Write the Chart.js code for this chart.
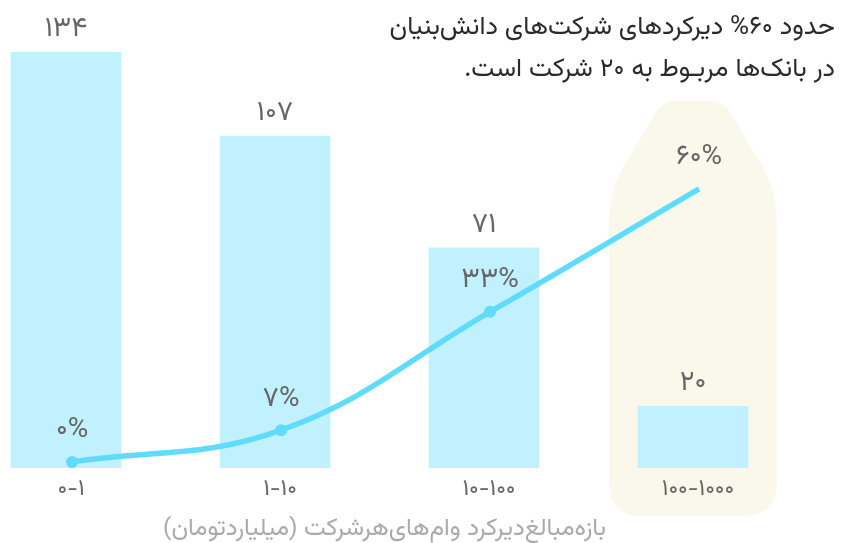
<!DOCTYPE html>
<html lang="fa">
<head>
<meta charset="utf-8">
<script src="https://cdn.jsdelivr.net/npm/chart.js@4.4.1/dist/chart.umd.min.js"></script>
<style>
  html, body { margin: 0; padding: 0; background: #fff; }
  #wrap { width: 845px; height: 543px; position: relative; }
</style>
</head>
<body>
<div id="wrap"><canvas id="chart"></canvas></div>
<script>
// Data
const categories = ['۰-۱', '۱-۱۰', '۱۰-۱۰۰', '۱۰۰-۱۰۰۰'];
const companyCounts = [134, 107, 71, 20];
const delayShares = [0, 7, 33, 60];
const titleLines = [
    'حدود ۶۰% دیرکردهای شرکت‌های دانش‌بنیان',
    'در بانک‌ها مربـوط به ۲۰ شرکت است.'
];
const axisTitle = 'بازه‌مبالغ‌دیرکرد وام‌های‌هرشرکت (میلیاردتومان)';

const FONT = "'Vazirmatn', 'Noto Sans Arabic', 'DejaVu Sans', sans-serif";

function toPersianDigits(n) {
    return String(n).replace(/[0-9]/g, d => '۰۱۲۳۴۵۶۷۸۹'[d]);
}

Chart.defaults.font.family = FONT;

// beige highlight behind last category
const highlightPlugin = {
    id: 'highlight',
    beforeDraw(chart) {
        const ctx = chart.ctx;
        const cx = chart.scales.x.getPixelForValue(3);
        const top = 101, bottom = 516, half = 84, r = 34;
        ctx.save();
        ctx.fillStyle = '#faf8ea';
        ctx.beginPath();
        ctx.moveTo(cx - 18, top);
        ctx.lineTo(cx + 18, top);
        ctx.quadraticCurveTo(cx + 28, top, cx + 36, top + 9);
        ctx.lineTo(cx + 60, top + 50);
        ctx.quadraticCurveTo(cx + half, top + 82, cx + half, top + 125);
        ctx.lineTo(cx + half, bottom - r);
        ctx.quadraticCurveTo(cx + half, bottom, cx + half - r, bottom);
        ctx.lineTo(cx - half + r, bottom);
        ctx.quadraticCurveTo(cx - half, bottom, cx - half, bottom - r);
        ctx.lineTo(cx - half, top + 125);
        ctx.quadraticCurveTo(cx - half, top + 82, cx - 60, top + 50);
        ctx.lineTo(cx - 36, top + 9);
        ctx.quadraticCurveTo(cx - 28, top, cx - 18, top);
        ctx.closePath();
        ctx.fill();
        ctx.restore();
    }
};

// value labels, axis title and headline
const labelsPlugin = {
    id: 'labels',
    afterDatasetsDraw(chart) {
        const ctx = chart.ctx;
        const area = chart.chartArea;
        ctx.save();
        ctx.direction = 'ltr';
        ctx.fillStyle = '#666';
        ctx.textAlign = 'center';
        ctx.textBaseline = 'middle';
        ctx.font = '28px ' + FONT;

        chart.getDatasetMeta(0).data.forEach((bar, i) => {
            ctx.fillText(toPersianDigits(companyCounts[i]), bar.x, bar.y - 20);
        });
        chart.getDatasetMeta(1).data.forEach((pt, i) => {
            ctx.fillText(toPersianDigits(delayShares[i]) + '%', pt.x, pt.y - 29);
        });

        ctx.direction = 'rtl';
        ctx.fillStyle = '#aaa';
        ctx.font = '24.5px ' + FONT;
        ctx.fillText(axisTitle, (area.left + area.right) / 2 + 5, 531);

        ctx.fillStyle = '#2a2a2a';
        ctx.font = '26px ' + FONT;
        ctx.textAlign = 'right';
        ctx.fillText(titleLines[0], 835, 30);
        ctx.fillText(titleLines[1], 835, 72);
        ctx.restore();
    }
};

new Chart(document.getElementById('chart'), {
    type: 'bar',
    data: {
        labels: categories,
        datasets: [
            {
                type: 'bar',
                data: companyCounts,
                backgroundColor: '#c1f1fe',
                categoryPercentage: 0.53,
                barPercentage: 1,
                grouped: false,
                clip: false,
                yAxisID: 'y',
                order: 1
            },
            {
                type: 'line',
                data: delayShares.map((v, i) => ({ x: i, y: v })),
                xAxisID: 'x2',
                yAxisID: 'y1',
                borderColor: '#5fdcfc',
                backgroundColor: '#5fdcfc',
                borderWidth: 5.5,
                pointRadius: 6,
                pointBorderWidth: 0,
                tension: 0.4,
                clip: false,
                order: 0
            }
        ]
    },
    options: {
        responsive: true,
        maintainAspectRatio: false,
        animation: false,
        layout: { padding: { top: 52, left: 66, right: 152, bottom: 0 } },
        plugins: {
            legend: { display: false },
            tooltip: { enabled: false }
        },
        scales: {
            x: {
                offset: false,
                grid: { display: false, drawTicks: false },
                border: { display: false },
                ticks: {
                    color: '#666',
                    font: { size: 23 },
                    padding: 10,
                    labelOffset: 5,
                    maxRotation: 0
                },
                afterFit(scale) { scale.height = 75; }
            },
            x2: {
                type: 'linear',
                display: false,
                offset: false,
                min: -0.029,
                max: 2.971
            },
            y: {
                display: false,
                min: 0,
                max: 134
            },
            y1: {
                display: false,
                min: -1.32,
                max: 90.1
            }
        }
    },
    plugins: [highlightPlugin, labelsPlugin]
});
</script>
</body>
</html>
